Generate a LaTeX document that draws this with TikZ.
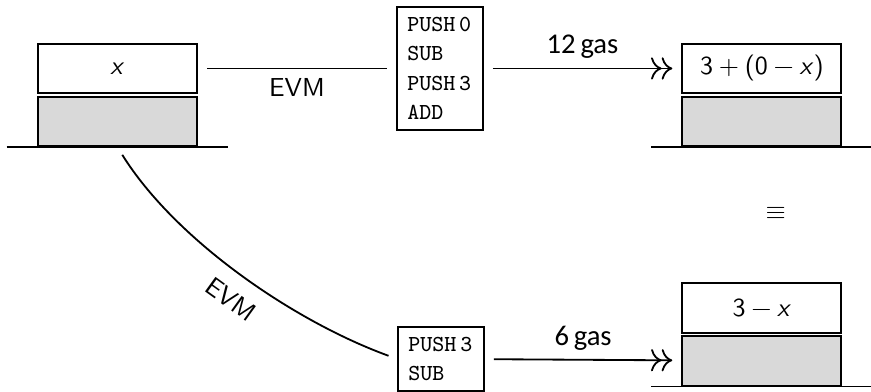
\documentclass[tikz,border=0pt]{standalone}
\usepackage{fontspec}
\newfontfamily\gasfont{Carlito}
\usetikzlibrary{positioning, arrows.meta}
\newcommand{\sfop}[1]{\hspace{0.22em}#1\hspace{0.22em}}
\newcommand{\sfx}{\textit{x}}
\tikzset{
    cell/.style={rectangle, draw=black, line width=0.7pt, minimum width=2.15cm, minimum height=0.67cm, inner sep=0pt, font=\sffamily},
    cellfill/.style={cell, fill=gray!30},
    codebox/.style={rectangle, draw=black, line width=0.7pt, align=left, text width=25pt, inner sep=4pt, font=\fontsize{8.8}{11.2}\selectfont\ttfamily},
    link/.style={line width=0.7pt, shorten <=3.5pt, shorten >=3.5pt},
    gasarrow/.style={link, -{To[scale=1.3]To[scale=1.3]}},
    floor/.style={line width=0.7pt},
    gaslabel/.style={above, font=\gasfont\fontsize{11}{13}\selectfont}
}

\begin{document}
\begin{tikzpicture}
    \useasboundingbox (0,0) rectangle (11.77,-5.296);

    % stack before
    \node (inA) [cell] at (1.587,-0.925) {\sfx};
    \node (inB) [cellfill, below=0.6pt of inA] {};
    \draw [floor] ([xshift=-0.41cm]inB.south west) -- ([xshift=0.41cm]inB.south east);

    % compiled code
    \node (longcode) [codebox] at (5.944,-0.925) {PUSH\,0\\SUB\\PUSH\,3\\ADD};
    \node (shortcode) [codebox] at (5.958,-4.850) {PUSH\,3\\SUB};

    % stacks after
    \node (outA) [cell] at (10.295,-0.925) {3\sfop{+}(0\sfop{\textminus}\sfx)};
    \node (outB) [cellfill, below=0.6pt of outA] {};
    \draw [floor] ([xshift=-0.41cm]outB.south west) -- ([xshift=0.41cm]outB.south east);

    \node (optA) [cell] at (10.295,-4.161) {3\sfop{\textminus}\sfx};
    \node (optB) [cellfill, below=0.6pt of optA] {};
    \draw [floor] ([xshift=-0.41cm]optB.south west) -- ([xshift=0.41cm]optB.south east);

    \node (equiv) at (10.484,-2.878) {$\equiv$};

    \draw [link] (inA) -- node[below, font=\sffamily] {EVM} (longcode);
    \draw [gasarrow] (longcode) -- node[gaslabel] {12\,gas} (outA);
    \draw [link] (inB.south) to[out=-58, in=160, looseness=0.8] node[sloped, below=3pt, pos=0.52, font=\sffamily] {EVM} (shortcode.west);
    \draw [gasarrow] (shortcode) -- node[gaslabel] {6\,gas} (optB);
\end{tikzpicture}
\end{document}
